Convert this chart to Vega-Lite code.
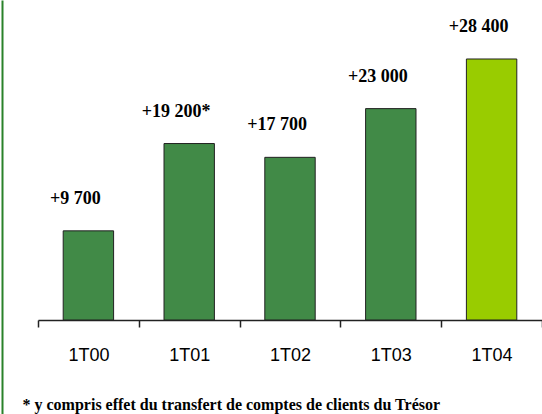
{
  "$schema": "https://vega.github.io/schema/vega-lite/v6.json",
  "width": 504,
  "height": 414,
  "autosize": "none",
  "padding": {"left": 38, "top": 0, "right": 0, "bottom": 0},
  "background": "white",
  "config": {"view": {"stroke": null}},
  "data": {
    "values": [
      {"period": "1T00", "value": 9700, "label": "+9 700", "kind": "past"},
      {"period": "1T01", "value": 19200, "label": "+19 200*", "kind": "past"},
      {"period": "1T02", "value": 17700, "label": "+17 700", "kind": "past"},
      {"period": "1T03", "value": 23000, "label": "+23 000", "kind": "past"},
      {"period": "1T04", "value": 28400, "label": "+28 400", "kind": "current"}
    ]
  },
  "encoding": {
    "x": {
      "field": "period",
      "type": "nominal",
      "sort": null,
      "scale": {"paddingInner": 0, "paddingOuter": 0},
      "axis": {
        "title": "* y compris effet du transfert de comptes de clients du Trésor",
        "titleFont": "'Liberation Serif', 'DejaVu Serif', serif",
        "titleFontWeight": "bold",
        "titleFontSize": 16,
        "titleColor": "#000",
        "titleAnchor": "start",
        "titleAlign": "left",
        "titleX": -16,
        "titleY": 89,
        "titleBaseline": "alphabetic",
        "offset": -94,
        "labelAngle": 0,
        "labelFont": "'Liberation Sans', Arial, sans-serif",
        "labelFontSize": 18,
        "labelColor": "#000",
        "labelPadding": 19,
        "tickBand": "extent",
        "tickSize": 7,
        "tickColor": "#222",
        "domainColor": "#222",
        "domainWidth": 1.5,
        "tickWidth": 1.5
      }
    },
    "y": {
      "field": "value",
      "type": "quantitative",
      "scale": {"domain": [-10230, 34820], "nice": false, "zero": false},
      "axis": {
        "title": null,
        "labels": false,
        "ticks": false,
        "grid": false,
        "domainColor": "#2a822a",
        "domainWidth": 2,
        "offset": 36
      }
    }
  },
  "layer": [
    {
      "mark": {"type": "bar", "width": {"band": 0.5}, "stroke": "#222", "strokeWidth": 1},
      "encoding": {
        "y2": {"datum": 0},
        "color": {
          "field": "kind",
          "type": "nominal",
          "scale": {"domain": ["past", "current"], "range": ["#418A47", "#99CC00"]},
          "legend": null
        }
      }
    },
    {
      "mark": {
        "type": "text",
        "font": "'Liberation Serif', 'DejaVu Serif', serif",
        "fontWeight": "bold",
        "fontSize": 18,
        "color": "#000",
        "baseline": "middle",
        "dy": -32,
        "dx": -13
      },
      "encoding": {"text": {"field": "label"}}
    }
  ]
}
